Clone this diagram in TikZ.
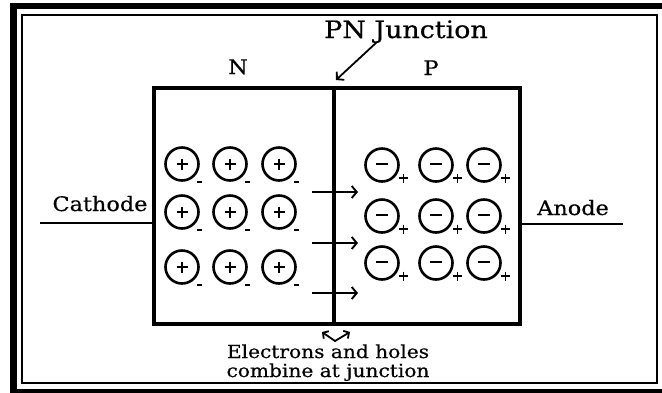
\documentclass[tikz,border=0pt]{standalone}
\usepackage{fontspec}
\setmainfont{DejaVu Serif}[FakeStretch=1.12,FakeBold=0.5]
\usetikzlibrary{arrows.meta}
\tikzset{
  lbl/.style={inner sep=0pt, anchor=base, font=\fontsize{20}{23}\selectfont},
  big/.style={inner sep=0pt, anchor=base, font=\fontsize{24}{27}\selectfont},
  small/.style={inner sep=0pt, anchor=base, font=\fontsize{18}{21}\selectfont},
  ion/.style={circle, draw, line width=2.6pt, minimum size=33pt, inner sep=0pt},
  sign/.style={line width=1.9pt},
  flow/.style={line width=1.9pt, -{Straight Barb[length=5pt,width=12pt]}},
  thin line/.style={line width=1.3pt},
}
\begin{document}
\begin{tikzpicture}[x=1pt,y=-1pt]
\useasboundingbox (0,0) rectangle (662,392);
\clip (0,0) rectangle (662,392);
% frame
\draw[line width=6.5pt] (670,6) -- (13.5,6) -- (13.5,392.5) -- (670,392.5);
\draw[line width=1.3pt] (22,15) rectangle (657,383);
% box
\node[draw, line width=4.5pt, minimum width=366pt, minimum height=236pt, inner sep=0pt] (box) at (337,206) {};
\coordinate (jt) at (334,88);
\coordinate (jb) at (334,324);
\draw[line width=3.5pt] (jt) -- (jb);
% labels
\node[big] (pnj) at (406,38) {PN Junction};
\node[lbl] (nl) at (238,74) {N};
\node[lbl] (pl) at (431,75) {P};
\coordinate (pa1) at (377,42);
\coordinate (pa2) at (336,80);
\draw[line width=1.8pt, -{Straight Barb[length=5pt,width=11pt]}] (pa1) -- (pa2);
% cathode / anode
\node[lbl] (cath) at (100,211) {Cathode};
\coordinate (c0) at (40,223);
\draw[thin line] (c0) -- (box.west |- c0);
\node[lbl] (anode) at (573,215) {Anode};
\coordinate (a0) at (623,224);
\draw[thin line] (box.east |- a0) -- (a0);
% N ions
\foreach \cx [count=\i] in {182,230,279}{
  \foreach \cy [count=\j] in {164,212,267}{
    \node[ion] (n\i\j) at (\cx,\cy) {};
    \draw[sign] (\cx-5.5,\cy) -- (\cx+5.5,\cy) (\cx,\cy-5.5) -- (\cx,\cy+5.5);
    \draw[line width=1.5pt] (\cx+15,\cy+18) -- (\cx+20,\cy+18);
  }
}
% P ions
\foreach \cx [count=\i] in {382,436,484}{
  \foreach \cy [count=\j] in {165,216,263}{
    \node[ion] (p\i\j) at (\cx,\cy) {};
    \draw[line width=1.6pt] (\cx-6,\cy-1) -- (\cx+6,\cy-1);
    \draw[line width=1.7pt] (\cx+17,\cy+13) -- (\cx+26,\cy+13) (\cx+21.5,\cy+8.5) -- (\cx+21.5,\cy+17.5);
  }
}
% flow arrows
\foreach \ay [count=\k] in {192,243,293}{
  \coordinate (fs\k) at (312,\ay);
  \coordinate (fe\k) at (358,\ay);
  \draw[flow] (fs\k) -- (fe\k);
}
% combine arrow
\coordinate (v1) at (322,332);
\coordinate (v2) at (335,341);
\coordinate (v3) at (350,332);
\draw[line width=1.8pt, {Straight Barb[length=4pt,width=9pt]}-{Straight Barb[length=4pt,width=9pt]}] (v1) -- (v2) -- (v3);
\node[small] (t1) at (328,358) {Electrons and holes};
\node[small] (t2) at (328,377) {combine at junction};
\end{tikzpicture}
\end{document}
